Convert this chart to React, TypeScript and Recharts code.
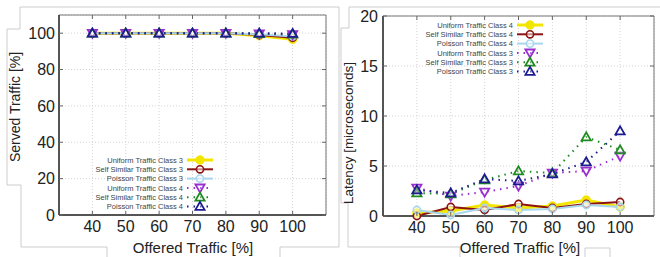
import { LineChart, Line, XAxis, YAxis, CartesianGrid, ReferenceArea } from "recharts";

// offered traffic [%]
const offered = [40, 50, 60, 70, 80, 90, 100];

// left panel: served traffic [%]
const servedUniform3 = [100, 100, 100, 100, 100, 98.6, 96.6];
const servedSelfSimilar3 = [100, 100, 100, 100, 100, 99.0, 97.5];
const servedPoisson3 = [100, 100, 100, 100, 100, 99.4, 98.2];
const servedUniform4 = [100, 100, 100, 100, 100, 99.6, 99.2];
const servedSelfSimilar4 = [100, 100, 100, 100, 100, 99.7, 99.5];
const servedPoisson4 = [100, 100, 100, 100, 100, 100, 99.8];

// right panel: latency [microseconds]
const latUniform4 = [0.3, 0.5, 1.1, 0.8, 1.0, 1.6, 0.9];
const latSelfSimilar4 = [0.0, 0.9, 0.6, 1.2, 0.8, 1.2, 1.4];
const latPoisson4 = [0.6, 0.1, 0.8, 0.6, 0.7, 1.1, 0.9];
const latUniform3 = [2.8, 2.0, 2.4, 3.0, 4.3, 4.5, 6.0];
const latSelfSimilar3 = [2.3, 2.2, 3.6, 4.5, 4.3, 7.9, 6.6];
const latPoisson3 = [2.6, 2.3, 3.7, 3.5, 4.2, 5.4, 8.5];

const servedTicks = [0, 20, 40, 60, 80, 100];
const latencyTicks = [0, 5, 10, 15, 20];

const leftNames = [
  "Uniform Traffic Class 3",
  "Self Similar Traffic Class 3",
  "Poisson Traffic Class 3",
  "Uniform Traffic Class 4",
  "Self Similar Traffic Class 4",
  "Poisson Traffic Class 4",
];
const rightNames = [
  "Uniform Traffic Class 4",
  "Self Similar Traffic Class 4",
  "Poisson Traffic Class 4",
  "Uniform Traffic Class 3",
  "Self Similar Traffic Class 3",
  "Poisson Traffic Class 3",
];

type Shape = "disc" | "ring" | "tup" | "tdown";
interface SeriesStyle {
  color: string;
  width: number;
  dash?: string;
  shape: Shape;
}

// one style per legend row (same in both panels)
const STYLES: SeriesStyle[] = [
  { color: "#f2e600", width: 3, shape: "disc" },
  { color: "#8c1414", width: 2, shape: "ring" },
  { color: "#a8d6ec", width: 2, shape: "ring" },
  { color: "#9a2fd0", width: 2, dash: "1.5 5", shape: "tdown" },
  { color: "#1f8a1f", width: 2, dash: "1.5 5", shape: "tup" },
  { color: "#1c1c90", width: 2, dash: "1.5 5", shape: "tup" },
];

const keys = ["s0", "s1", "s2", "s3", "s4", "s5"];

const servedRows = offered.map((x, i) => ({
  x,
  s0: servedUniform3[i],
  s1: servedSelfSimilar3[i],
  s2: servedPoisson3[i],
  s3: servedUniform4[i],
  s4: servedSelfSimilar4[i],
  s5: servedPoisson4[i],
}));

const latencyRows = offered.map((x, i) => ({
  x,
  s0: latUniform4[i],
  s1: latSelfSimilar4[i],
  s2: latPoisson4[i],
  s3: latUniform3[i],
  s4: latSelfSimilar3[i],
  s5: latPoisson3[i],
}));

const FONT = "'Liberation Sans', Arial, sans-serif";

function Marker({ cx, cy, s }: { cx: number; cy: number; s: SeriesStyle }) {
  if (cx == null || cy == null) return null;
  if (s.shape === "disc")
    return <circle cx={cx} cy={cy} r={4.2} fill={s.color} stroke={s.color} strokeWidth={1} />;
  if (s.shape === "ring")
    return <circle cx={cx} cy={cy} r={3.6} fill="#fff" fillOpacity={0.5} stroke={s.color} strokeWidth={1.6} />;
  const d =
    s.shape === "tup"
      ? `M${cx},${cy - 4.6} L${cx + 4.6},${cy + 3.4} L${cx - 4.6},${cy + 3.4} Z`
      : `M${cx},${cy + 4.6} L${cx + 4.6},${cy - 3.4} L${cx - 4.6},${cy - 3.4} Z`;
  return <path d={d} fill="#fff" fillOpacity={0.3} stroke={s.color} strokeWidth={1.8} strokeLinejoin="miter" />;
}

function xTick(top: number, bottom: number) {
  return (p: any) => (
    <g>
      <line x1={p.x} x2={p.x} y1={bottom} y2={bottom - 4} stroke="#666" />
      <line x1={p.x} x2={p.x} y1={top} y2={top + 4} stroke="#666" />
      <text x={p.x} y={p.y} dy="0.71em" textAnchor="middle" fontSize={16} fill="#222" fontFamily={FONT}>
        {p.payload.value}
      </text>
    </g>
  );
}

function yTick(left: number, right: number) {
  return (p: any) => (
    <g>
      <line x1={left} x2={left + 4} y1={p.y} y2={p.y} stroke="#666" />
      <line x1={right} x2={right - 4} y1={p.y} y2={p.y} stroke="#666" />
      <text x={p.x} y={p.y} dy="0.36em" textAnchor="end" fontSize={16} fill="#222" fontFamily={FONT}>
        {p.payload.value}
      </text>
    </g>
  );
}

function LegendBox({ names, left, top }: { names: string[]; left: number; top: number }) {
  return (
    <svg
      width={140}
      height={60}
      style={{ position: "absolute", left, top, overflow: "visible" }}
    >
      {names.map((name, i) => {
        const s = STYLES[i];
        const y = 7 + i * 9.3;
        return (
          <g key={name}>
            <text x={96} y={y} dy="0.35em" textAnchor="end" fontSize={7.5} fill="#444" fontFamily={FONT}>
              {name}
            </text>
            <line
              x1={100}
              x2={126}
              y1={y}
              y2={y}
              stroke={s.color}
              strokeWidth={s.width}
              strokeDasharray={s.dash}
            />
            <Marker cx={113} cy={y} s={s} />
          </g>
        );
      })}
    </svg>
  );
}

function renderLines() {
  return keys.map((k, i) => {
    const s = STYLES[i];
    return (
      <Line
        key={k}
        dataKey={k}
        type="linear"
        stroke={s.color}
        strokeWidth={s.width}
        strokeDasharray={s.dash}
        dot={(p: any) => <Marker key={`${k}-${p.index}`} cx={p.cx} cy={p.cy} s={s} />}
        activeDot={false}
        isAnimationActive={false}
      />
    );
  });
}

const FRAME = "#cdcdcd";

export default function App() {
  return (
    <div style={{ position: "absolute", left: 0, top: 0, width: 660, height: 257, background: "#fff", fontFamily: FONT }}>
      <svg width={660} height={257} style={{ position: "absolute", left: 0, top: 0 }}>
        <path
          d="M339 7 L20 7 L20 29 L7 29 L7 185 L21 185 L21 247 L107 247 L107 257 M280 257 L280 247 L339 247 L339 7"
          fill="none"
          stroke={FRAME}
        />
        <path
          d="M660 7 L349 7 L349 28 L341 28 L341 203 L348 203 L348 247 L460 247 L460 257 M585 257 L585 248 L610 248 L610 257"
          fill="none"
          stroke={FRAME}
        />
      </svg>

      <div style={{ position: "absolute", left: 0, top: 0 }}>
        <LineChart width={340} height={257} data={servedRows} margin={{ top: 15, right: 14, bottom: 12, left: 0 }}>
          <CartesianGrid stroke="#d4d4d4" strokeDasharray="1 2" />
          <ReferenceArea x1={30} x2={110} y1={0} y2={110} fill="none" stroke="#777" strokeWidth={1} />
          <XAxis
            dataKey="x"
            type="number"
            domain={[30, 110]}
            ticks={offered}
            interval={0}
            height={30}
            tickSize={3}
            tickMargin={3}
            tickLine={false}
            axisLine={{ stroke: "#333", strokeWidth: 1.5 }}
            tick={xTick(15, 215)}
            label={() => (
              <text x={193} y={253} textAnchor="middle" fontSize={15} fill="#222" fontFamily={FONT}>
                Offered Traffic [%]
              </text>
            )}
          />
          <YAxis
            type="number"
            domain={[0, 110]}
            ticks={servedTicks}
            interval={0}
            width={59}
            tickSize={1}
            tickMargin={3}
            tickLine={false}
            axisLine={{ stroke: "#333", strokeWidth: 1.5 }}
            tick={yTick(59, 326)}
            label={() => (
              <text
                x={15}
                y={107}
                transform="rotate(-90 15 107)"
                dy="0.35em"
                textAnchor="middle"
                fontSize={14}
                fill="#222"
                fontFamily={FONT}
              >
                Served Traffic [%]
              </text>
            )}
          />
          {renderLines()}
        </LineChart>
      </div>

      <div style={{ position: "absolute", left: 340, top: 0 }}>
        <LineChart width={320} height={257} data={latencyRows} margin={{ top: 16, right: 6, bottom: 11, left: 0 }}>
          <CartesianGrid stroke="#d4d4d4" strokeDasharray="1 2" />
          <ReferenceArea x1={30} x2={110} y1={0} y2={20} fill="none" stroke="#777" strokeWidth={1} />
          <XAxis
            dataKey="x"
            type="number"
            domain={[30, 110]}
            ticks={offered}
            interval={0}
            height={30}
            tickSize={3}
            tickMargin={3}
            tickLine={false}
            axisLine={{ stroke: "#333", strokeWidth: 1.5 }}
            tick={xTick(16, 216)}
            label={() => (
              <text x={180} y={253} textAnchor="middle" fontSize={15} fill="#222" fontFamily={FONT}>
                Offered Traffic [%]
              </text>
            )}
          />
          <YAxis
            type="number"
            domain={[0, 20]}
            ticks={latencyTicks}
            interval={0}
            width={43}
            tickSize={1}
            tickMargin={4}
            tickLine={false}
            axisLine={{ stroke: "#333", strokeWidth: 1.5 }}
            tick={yTick(43, 314)}
            label={() => (
              <text
                x={8}
                y={133}
                transform="rotate(-90 8 133)"
                dy="0.35em"
                textAnchor="middle"
                fontSize={13.5}
                fill="#222"
                fontFamily={FONT}
              >
                Latency [microseconds]
              </text>
            )}
          />
          {renderLines()}
        </LineChart>
      </div>

      <LegendBox names={leftNames} left={87} top={153} />
      <LegendBox names={rightNames} left={417} top={18} />
    </div>
  );
}
